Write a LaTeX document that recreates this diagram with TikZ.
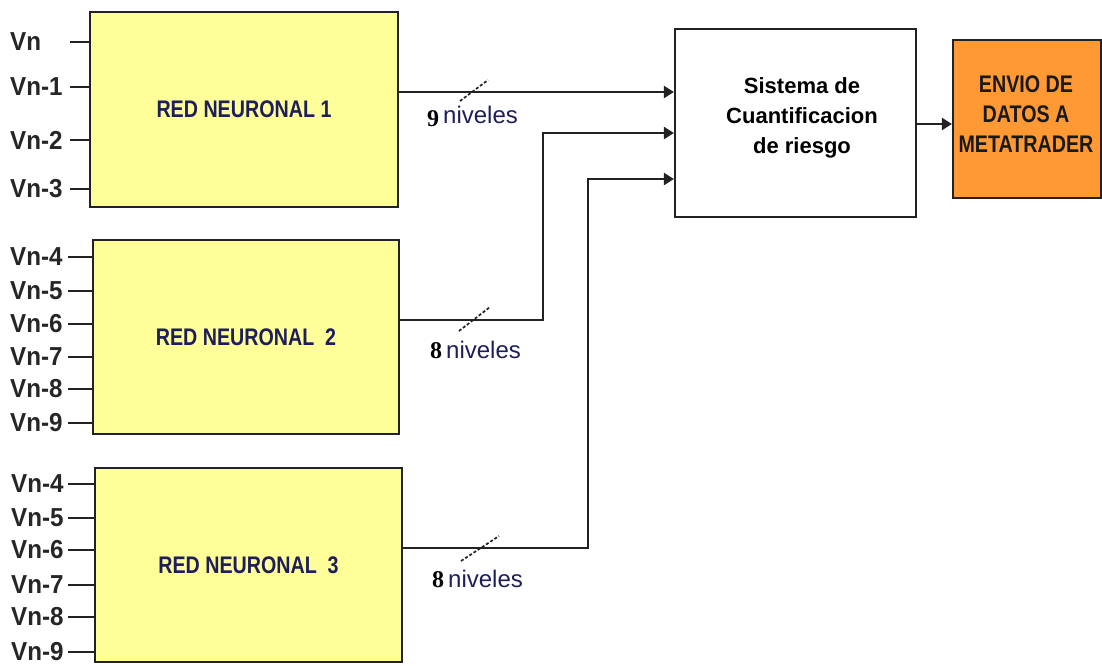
\documentclass[tikz,border=0pt]{standalone}
\usepackage{fontspec}
\setmainfont{Liberation Sans}
\newfontfamily\narrowfont[FakeStretch=0.93]{Liberation Sans}
\newfontfamily\condfont[FakeStretch=0.82]{Liberation Sans}
\newfontfamily\digitfont{Liberation Serif}
\usetikzlibrary{arrows.meta}
\definecolor{boxyellow}{HTML}{FFFF99}
\definecolor{boxorange}{HTML}{FF9933}
\definecolor{navy}{HTML}{1E1E5A}
\definecolor{edge}{HTML}{222222}
\tikzset{
  nnbox/.style={draw=edge, line width=2.2pt, fill=boxyellow, inner sep=0pt,
    font=\condfont\bfseries\fontsize{24}{28}\selectfont, text=navy},
  sisbox/.style={draw=edge, line width=2.2pt, fill=white, inner sep=0pt},
  outbox/.style={draw=edge, line width=2.2pt, fill=boxorange, inner sep=0pt},
  inlabel/.style={anchor=west, inner sep=0pt, font=\narrowfont\bfseries\fontsize{26}{30}\selectfont, text=black!85},
  inwire/.style={line width=2.2pt, draw=edge},
  wire/.style={line width=2.2pt, draw=edge},
  arr/.style={wire, -{Triangle[length=10pt,width=12pt]}},
  slashmark/.style={line width=1.7pt, dash pattern=on 3pt off 2pt, draw=edge},
  nivlabel/.style={anchor=base west, inner sep=0pt, font=\fontsize{24}{28}\selectfont, text=navy},
}
\begin{document}
\begin{tikzpicture}[x=1pt,y=-1pt]
\path[use as bounding box, fill=white] (0,0) rectangle (1102,665);

% neural network boxes
\node[nnbox, minimum width=308, minimum height=195] (box1) at (244,109.5) {RED NEURONAL 1};
\node[nnbox, minimum width=306, minimum height=194] (box2) at (246,337) {RED NEURONAL\ \ 2};
\node[nnbox, minimum width=307, minimum height=194] (box3) at (248.5,565) {RED NEURONAL\ \ 3};

% quantification system and output box
\node[sisbox, minimum width=241, minimum height=188] (sis) at (795.5,123) {};
\node[align=center, inner sep=0pt, font=\bfseries\fontsize{22}{30}\selectfont] (sistxt) at (802,118)
  {Sistema de\\Cuantificacion\\de riesgo};
\node[outbox, minimum width=148, minimum height=158] (env) at (1027,119) {};
\node[align=center, inner sep=0pt, font=\condfont\bfseries\fontsize{24}{30}\selectfont, text=black!90] (envtxt) at (1026,114)
  {ENVIO DE\\DATOS A\\METATRADER};

% inputs box 1
\foreach \t/\y/\n in {Vn/42/a, Vn-1/87/b, Vn-2/140/c, Vn-3/189/d}{
  \node[inlabel] (l1\n) at (10,\y) {\t};
  \coordinate (s1\n) at (70,\y);
  \draw[inwire] (s1\n) -- (box1.west |- s1\n);
}
% inputs box 2
\foreach \t/\y/\n in {Vn-4/257/a, Vn-5/291/b, Vn-6/324/c, Vn-7/357/d, Vn-8/389/e, Vn-9/423/f}{
  \node[inlabel] (l2\n) at (10,\y) {\t};
  \coordinate (s2\n) at (68,\y);
  \draw[inwire] (s2\n) -- (box2.west |- s2\n);
}
% inputs box 3
\foreach \t/\y/\n in {Vn-4/484/a, Vn-5/518/b, Vn-6/550/c, Vn-7/585/d, Vn-8/617/e, Vn-9/652/f}{
  \node[inlabel] (l3\n) at (11,\y) {\t};
  \coordinate (s3\n) at (68,\y);
  \draw[inwire] (s3\n) -- (box3.west |- s3\n);
}

% output connectors
\coordinate (y1) at (0,92);
\coordinate (y2) at (0,320);
\coordinate (y3) at (0,548);
\coordinate (t2) at (0,133);
\coordinate (t3) at (0,179);
\coordinate (v2) at (543,0);
\coordinate (v3) at (588,0);
\coordinate (y4) at (0,124);

\draw[arr] (box1.east |- y1) -- (sis.west |- y1);
\draw[arr] (box2.east |- y2) -- (v2 |- y2) -- (v2 |- t2) -- (sis.west |- t2);
\draw[arr] (box3.east |- y3) -- (v3 |- y3) -- (v3 |- t3) -- (sis.west |- t3);
\draw[arr] (sis.east |- y4) -- (env.west |- y4);

% bus slashes
\draw[slashmark] (460,101) -- (488,80);
\draw[slashmark] (459,331) -- (490,307);
\draw[slashmark] (461,561) -- (499,536);

% bus labels
\node[nivlabel] (n1) at (427,123) {\raisebox{-3pt}{\digitfont\bfseries\color{black}9}\,niveles};
\node[nivlabel] (n2) at (430,358) {{\digitfont\bfseries\color{black}8}\,niveles};
\node[nivlabel] (n3) at (432,587) {{\digitfont\bfseries\color{black}8}\,niveles};
\end{tikzpicture}
\end{document}
